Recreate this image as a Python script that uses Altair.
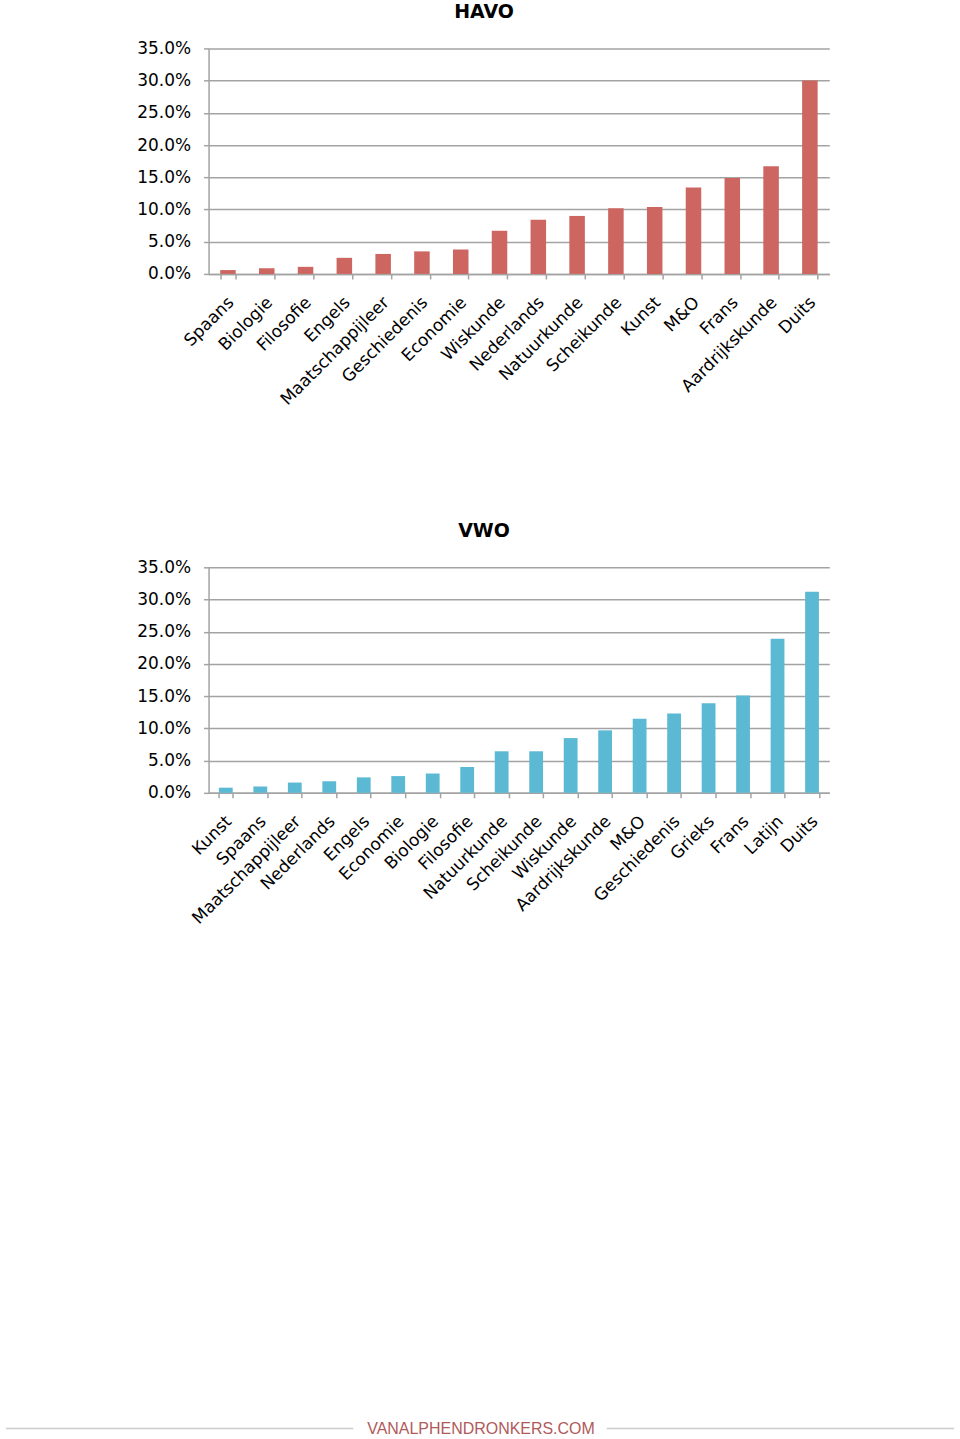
import altair as alt
import pandas as pd

havo_subjects = ["Spaans", "Biologie", "Filosofie", "Engels", "Maatschappijleer",
                 "Geschiedenis", "Economie", "Wiskunde", "Nederlands", "Natuurkunde",
                 "Scheikunde", "Kunst", "M&O", "Frans", "Aardrijkskunde", "Duits"]
havo_values = [0.6, 0.9, 1.1, 2.5, 3.1, 3.5, 3.8, 6.7, 8.4, 9.0,
               10.2, 10.4, 13.4, 14.9, 16.7, 30.0]

vwo_subjects = ["Kunst", "Spaans", "Maatschappijleer", "Nederlands", "Engels",
                "Economie", "Biologie", "Filosofie", "Natuurkunde", "Scheikunde",
                "Wiskunde", "Aardrijkskunde", "M&O", "Geschiedenis", "Grieks",
                "Frans", "Latijn", "Duits"]
vwo_values = [0.8, 1.0, 1.6, 1.8, 2.4, 2.6, 3.0, 4.0, 6.45, 6.45,
              8.5, 9.7, 11.5, 12.3, 13.9, 15.1, 23.9, 31.2]

y_ticks = [0, 0.05, 0.10, 0.15, 0.20, 0.25, 0.30, 0.35]
footer_text = "VANALPHENDRONKERS.COM"

FONT = "DejaVu Sans"
GRID = "#a3a3a3"


def bar_chart(subjects, values, color, title):
    df = pd.DataFrame({"vak": subjects, "aandeel": [v / 100 for v in values]})
    return alt.Chart(df).mark_bar(color=color).encode(
        x=alt.X("vak:N", sort=subjects, title=None,
                scale=alt.Scale(paddingInner=0.6, paddingOuter=0.3),
                axis=alt.Axis(labelAngle=-45, labelAlign="right", labelBaseline="top",
                              labelFont=FONT, labelFontSize=17, labelColor="#000000",
                              labelPadding=15, labelOffset=-3, tickBand="extent",
                              tickSize=5, tickColor=GRID, tickWidth=1.5,
                              domainColor=GRID, domainWidth=1.5, labelOverlap=False,
                              grid=False)),
        y=alt.Y("aandeel:Q", title=None,
                scale=alt.Scale(domain=[0, 0.35], nice=False),
                axis=alt.Axis(values=y_ticks, format=".1%", labelFont=FONT,
                              labelFontSize=17, labelColor="#000000", labelPadding=13,
                              tickSize=5, tickColor=GRID, tickWidth=1.5,
                              domainColor=GRID, domainWidth=1.5,
                              grid=True, gridColor=GRID, gridWidth=1.5)),
    ).properties(
        width=622, height=226,
        title=alt.TitleParams(title, font=FONT, fontSize=19, fontWeight="bold",
                              color="#000000", anchor="middle", dx=-35, offset=17),
    )


havo = bar_chart(havo_subjects, havo_values, "#cd6660", "HAVO")
vwo_bars = bar_chart(vwo_subjects, vwo_values, "#5bb9d3", "VWO")

one = pd.DataFrame({"t": [footer_text]})
footer_line_left = alt.Chart(one).mark_rule(color="#cccccc", strokeWidth=1.5).encode(
    x=alt.value(-203), x2=alt.value(145), y=alt.value(863))
footer_line_right = alt.Chart(one).mark_rule(color="#cccccc", strokeWidth=1.5).encode(
    x=alt.value(399), x2=alt.value(747), y=alt.value(863))
footer_label = alt.Chart(one).mark_text(
    font="Liberation Sans", fontSize=16, color="#b05a5a", align="center", baseline="middle"
).encode(text="t:N", x=alt.value(273), y=alt.value(863))

vwo = alt.layer(vwo_bars, footer_line_left, footer_line_right, footer_label)

chart = alt.vconcat(havo, vwo, spacing=114).properties(
    padding={"left": 5, "top": 2, "right": 5, "bottom": 5}
).configure_view(stroke=None)

chart.save("out.html", embed_options={"renderer": "svg", "actions": False})
